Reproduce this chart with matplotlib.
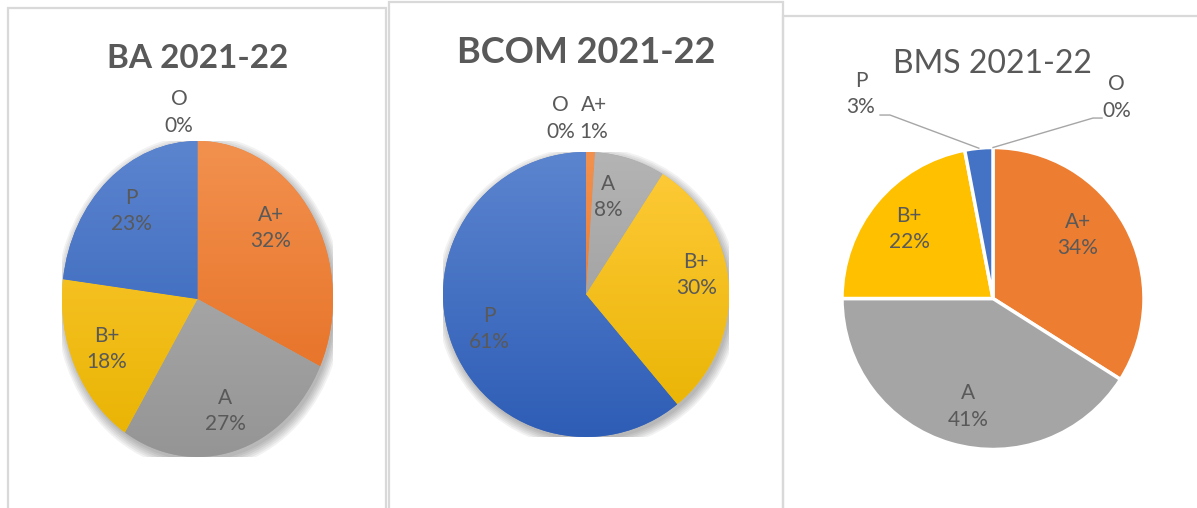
import matplotlib.pyplot as plt
import numpy as np
from matplotlib.colors import LinearSegmentedColormap
from matplotlib.patches import Ellipse, Rectangle

W, H = 1197, 508

GRADES = ["O", "A+", "A", "B+", "P"]
BA_SHARE = [0, 32, 27, 18, 23]
BCOM_SHARE = [0, 1, 8, 30, 61]
BMS_SHARE = [0, 34, 41, 22, 3]

FLAT = {"O": "#5B9BD5", "A+": "#ED7D31", "A": "#A5A5A5", "B+": "#FFC000", "P": "#4472C4"}
# (top, bottom) shades for the gradient-filled pies
GRAD = {
    "O": ("#6FA8DC", "#4A86C8"),
    "A+": ("#F2914F", "#E46A1C"),
    "A": ("#B4B4B4", "#959595"),
    "B+": ("#FFCB3A", "#E8B300"),
    "P": ("#5C85CF", "#2E5DB6"),
}
TXT = "#595959"
FONT = "Lato"

plt.rcParams["font.family"] = [FONT, "DejaVu Sans"]


def px_axes(fig, cx, cy, rx, ry):
    return fig.add_axes([(cx - rx) / W, 1 - (cy + ry) / H, 2 * rx / W, 2 * ry / H])


def draw_pie(ax, shares, gradient):
    if gradient:
        for k in range(6):
            s = 1.0 + 0.012 * k
            ax.add_patch(Ellipse((0.015, -0.025), 2 * s, 2 * s, color="#000000", alpha=0.05, lw=0, zorder=0))
    wedges, _ = ax.pie(
        shares, startangle=90, counterclock=False, radius=1,
        colors=[FLAT[g] for g in GRADES],
        wedgeprops=dict(edgecolor="none" if gradient else "white", linewidth=0 if gradient else 2.5),
    )
    if gradient:
        ramp = np.linspace(1, 0, 256)[:, None]
        for w, g in zip(wedges, GRADES):
            cmap = LinearSegmentedColormap.from_list(g, [GRAD[g][1], GRAD[g][0]])
            im = ax.imshow(ramp, cmap=cmap, extent=(-1, 1, -1, 1), origin="upper", aspect="auto",
                           zorder=w.get_zorder() + 0.1, vmin=0, vmax=1)
            im.set_clip_path(w)
    ax.set_aspect("auto")
    ax.set_xlim(-1, 1)
    ax.set_ylim(-1, 1)
    ax.axis("off")
    return wedges


def mid_angles(shares):
    out, start = [], 90.0
    for v in shares:
        out.append(np.deg2rad(start - v * 3.6 / 2))
        start -= v * 3.6
    return out


def inner_labels(ax, shares, skip, dist=0.72, moved=None):
    # Excel "best fit" nudges a few labels off the mid-angle; `moved` holds those spots
    moved = moved or {}
    for g, v, a in zip(GRADES, shares, mid_angles(shares)):
        if g in skip:
            continue
        x, y = moved.get(g, (dist * np.cos(a), dist * np.sin(a)))
        ax.text(x, y, f"{g}\n{v}%", ha="center", va="center",
                fontsize=15, color=TXT, linespacing=1.4, zorder=5)


def outer_label(ax, g, v, x, y):
    ax.text(x, y, f"{g}\n{v}%", ha="center", va="center", fontsize=15, color=TXT,
            linespacing=1.4, clip_on=False, zorder=5)


def frame(fig, x0, y0, x1, y1):
    fig.add_artist(Rectangle((x0 / W, 1 - y1 / H), (x1 - x0) / W, (y1 - y0) / H,
                             transform=fig.transFigure, fill=False, edgecolor="#D9D9D9", lw=1.6))


fig = plt.figure(figsize=(W / 100, H / 100), dpi=100)
fig.patch.set_facecolor("white")

frame(fig, 8, 8, 386, 530)
frame(fig, 389, 2, 783, 530)
frame(fig, 783, 16, 1215, 530)

# BA
ax1 = px_axes(fig, 197.5, 299, 135.5, 158)
draw_pie(ax1, BA_SHARE, gradient=True)
inner_labels(ax1, BA_SHARE, skip={"O"}, dist=0.74, moved={"A+": (0.54, 0.45)})
outer_label(ax1, "O", BA_SHARE[0], -0.137, 1.18)
fig.text(198 / W, 1 - 68 / H, "BA 2021-22", ha="center", va="baseline", fontsize=24,
         fontweight="bold", color=TXT)

# BCOM
ax2 = px_axes(fig, 586, 294.5, 143, 142.5)
draw_pie(ax2, BCOM_SHARE, gradient=True)
inner_labels(ax2, BCOM_SHARE, skip={"O", "A+"}, dist=0.72,
             moved={"A": (0.154, 0.685), "B+": (0.77, 0.135)})
outer_label(ax2, "O", BCOM_SHARE[0], -0.18, 1.234)
outer_label(ax2, "A+", BCOM_SHARE[1], 0.056, 1.234)
fig.text(586 / W, 1 - 63 / H, "BCOM 2021-22", ha="center", va="baseline", fontsize=26,
         fontweight="bold", color=TXT)

# BMS
ax3 = px_axes(fig, 993, 298.5, 151, 151)
draw_pie(ax3, BMS_SHARE, gradient=False)
inner_labels(ax3, BMS_SHARE, skip={"O", "P"}, dist=0.72,
             moved={"A+": (0.563, 0.42), "A": (-0.166, -0.716)})
angs = mid_angles(BMS_SHARE)
outer_label(ax3, "P", BMS_SHARE[4], -0.874, 1.354)
outer_label(ax3, "O", BMS_SHARE[0], 0.82, 1.33)
a_p, a_o = angs[4], angs[0]
ax3.plot([-0.748, -0.682, np.cos(a_p)], [1.215, 1.215, np.sin(a_p)], color="#A6A6A6", lw=1, clip_on=False)
ax3.plot([0.722, 0.662, np.cos(a_o)], [1.195, 1.195, np.sin(a_o)], color="#A6A6A6", lw=1, clip_on=False)
fig.text(992 / W, 1 - 73 / H, "BMS 2021-22", ha="center", va="baseline", fontsize=23, color=TXT)

fig.savefig("out.png", dpi=100)
